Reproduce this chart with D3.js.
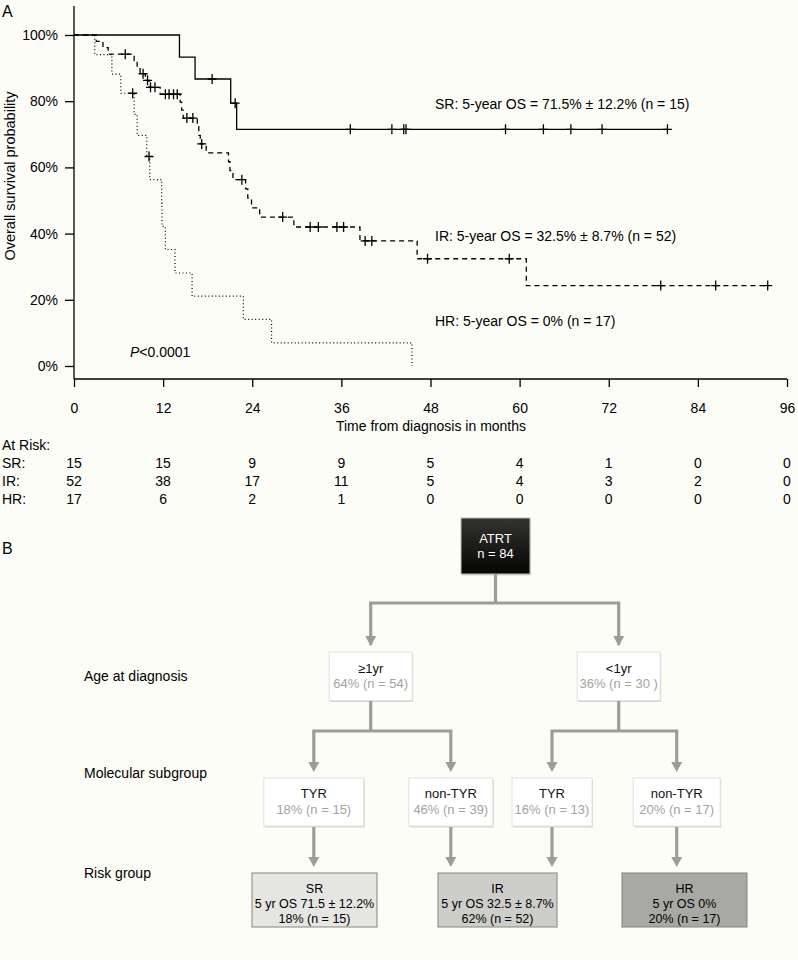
<!DOCTYPE html>
<html><head><meta charset="utf-8">
<script src="https://cdnjs.cloudflare.com/ajax/libs/d3/7.8.5/d3.min.js"></script>
<style>
html,body{margin:0;padding:0;background:#fdfdf7;}
svg{display:block;font-family:"Liberation Sans",Arial,Helvetica,sans-serif;}
</style></head>
<body><svg id="c" width="798" height="960"></svg>
<script>
// ---------- Data (panel A) ----------
const srTimes = [0, 14.2, 16.3, 21.1, 21.9, 79.9];
const srSurv  = [100, 93.3, 86.7, 79.4, 71.5, 71.5];
const srCens  = [18.6, 21.7, 37.2, 42.8, 44.4, 44.7, 58.1, 63.2, 66.9, 71.1, 79.9];

const irTimes = [0, 3.0, 3.9, 4.6, 8.1, 8.5, 8.9, 9.6, 10.1, 11.6, 14.3, 14.5, 14.7, 16.6, 16.8, 17.0, 17.8, 20.8, 21.0, 21.4, 23.1, 23.4, 23.9, 25.0, 29.6, 38.5, 46.2, 60.9, 93.4];
const irSurv  = [100, 98.1, 96.2, 94.2, 92.3, 90.3, 88.3, 86.3, 84.2, 82.1, 79.7, 77.3, 74.9, 72.3, 69.7, 67.1, 64.4, 61.7, 59.0, 56.3, 53.5, 50.7, 47.8, 45.0, 42.0, 37.8, 32.4, 24.3, 24.3];
const irCens  = [6.9, 9.3, 9.9, 10.3, 10.9, 12.3, 12.8, 13.4, 13.9, 15.2, 16.0, 17.2, 22.6, 28.1, 31.8, 32.9, 35.4, 36.3, 39.2, 40.1, 47.6, 58.6, 79.0, 86.4, 93.4];

const hrTimes = [0, 2.8, 5.1, 6.3, 8.1, 8.5, 9.8, 10.2, 11.8, 11.85, 12.3, 13.6, 15.9, 22.8, 26.6, 45.5];
const hrSurv  = [100, 94.1, 88.2, 82.4, 76.0, 69.7, 63.3, 56.3, 49.2, 42.2, 35.2, 28.1, 21.1, 14.1, 7.0, 0];
const hrCens  = [7.9, 10.1];

const xTicks = [0, 12, 24, 36, 48, 60, 72, 84, 96];
const yTicks = [0, 20, 40, 60, 80, 100];
const srRisk = [15, 15, 9, 9, 5, 4, 1, 0, 0];
const irRisk = [52, 38, 17, 11, 5, 4, 3, 2, 0];
const hrRisk = [17, 6, 2, 1, 0, 0, 0, 0, 0];

const curveLabels = ["SR: 5-year OS = 71.5% \u00b1 12.2% (n = 15)",
                     "IR: 5-year OS = 32.5% \u00b1 8.7% (n = 52)",
                     "HR: 5-year OS = 0% (n = 17)"];

// ---------- Data (panel B) ----------
const rootLabel = ["ATRT", "n = 84"];
const ageLabels = ["\u22651yr", "<1yr"];
const agePct = ["64% (n = 54)", "36% (n = 30 )"];
const molLabels = ["TYR", "non-TYR", "TYR", "non-TYR"];
const molPct = ["18% (n = 15)", "46% (n = 39)", "16% (n = 13)", "20% (n = 17)"];
const riskNames = ["SR", "IR", "HR"];
const riskOS = ["5 yr OS 71.5 \u00b1 12.2%", "5 yr OS 32.5 \u00b1 8.7%", "5 yr OS 0%"];
const riskPct = ["18% (n = 15)", "62% (n = 52)", "20% (n = 17)"];
const rowLabels = ["Age at diagnosis", "Molecular subgroup", "Risk group"];

// ---------- Panel A ----------
const svg = d3.select("#c");
const x = d3.scaleLinear().domain([0, 96]).range([74, 787]);
const y = d3.scaleLinear().domain([0, 100]).range([366, 35]);
const axisY = 379;

svg.append("text").attr("x", 2).attr("y", 17).attr("font-size", 16).text("A");
svg.append("text").attr("x", 2).attr("y", 554).attr("font-size", 16).text("B");

// y axis
const gy = svg.append("g").attr("transform", "translate(74,0)")
  .call(d3.axisLeft(y).tickValues(yTicks).tickFormat(d => d + "%").tickSize(9).tickPadding(7));
gy.select(".domain").remove();
gy.selectAll("line").attr("stroke", "#000").attr("stroke-width", 1.3);
gy.selectAll("text").attr("font-size", 14).attr("font-family", "Liberation Sans, Arial, sans-serif").attr("fill", "#000");
svg.append("line").attr("x1", 74).attr("x2", 74).attr("y1", 6).attr("y2", axisY)
  .attr("stroke", "#000").attr("stroke-width", 1.3);

// x axis
const gx = svg.append("g").attr("transform", `translate(0,${axisY})`)
  .call(d3.axisBottom(x).tickValues(xTicks).tickSize(8).tickPadding(16));
gx.select(".domain").attr("d", `M${x(0)},0H${x(96)}`).attr("stroke", "#000").attr("stroke-width", 1.3);
gx.selectAll("line").attr("stroke", "#000").attr("stroke-width", 1.3);
gx.selectAll("text").attr("font-size", 14).attr("font-family", "Liberation Sans, Arial, sans-serif").attr("fill", "#000");

svg.append("text").attr("x", 431).attr("y", 431).attr("text-anchor", "middle").attr("font-size", 14)
  .text("Time from diagnosis in months");
svg.append("text").attr("transform", "translate(15,176) rotate(-90)").attr("text-anchor", "middle")
  .attr("font-size", 14.5).text("Overall survival probability");

// curves
function stepLevel(times, surv, t) {
  let s = surv[0];
  for (let i = 0; i < times.length; i++) { if (times[i] <= t) s = surv[i]; }
  return s;
}
const line = d3.line().x(d => x(d[0])).y(d => y(d[1])).curve(d3.curveStepAfter);
function drawCurve(times, surv, cens, dash, width) {
  const pts = times.map((t, i) => [t, surv[i]]);
  svg.append("path").attr("d", line(pts)).attr("fill", "none").attr("stroke", "#000")
    .attr("stroke-width", width).attr("stroke-dasharray", dash);
  const g = svg.append("g");
  cens.forEach(t => {
    const cx = x(t), cy = y(stepLevel(times, surv, t));
    g.append("path").attr("d", `M${cx - 4.5},${cy}H${cx + 4.5}M${cx},${cy - 5}V${cy + 5}`)
      .attr("stroke", "#000").attr("stroke-width", 1.3).attr("fill", "none");
  });
}
drawCurve(hrTimes, hrSurv, hrCens, "1,2.5", 1.2);
drawCurve(irTimes, irSurv, irCens, "5,4", 1.3);
drawCurve(srTimes, srSurv, srCens, null, 1.3);

svg.append("text").attr("x", 435).attr("y", 109).attr("font-size", 14).text(curveLabels[0]);
svg.append("text").attr("x", 435).attr("y", 241).attr("font-size", 14).text(curveLabels[1]);
svg.append("text").attr("x", 435).attr("y", 326).attr("font-size", 14).text(curveLabels[2]);
const pt = svg.append("text").attr("x", 130).attr("y", 357).attr("font-size", 14);
pt.append("tspan").attr("font-style", "italic").text("P");
pt.append("tspan").text("<0.0001");

// at-risk table
svg.append("text").attr("x", 2).attr("y", 450).attr("font-size", 14).text("At Risk:");
[["SR:", srRisk, 468], ["IR:", irRisk, 486], ["HR:", hrRisk, 504]].forEach(([lab, arr, yy]) => {
  svg.append("text").attr("x", 2).attr("y", yy).attr("font-size", 14).text(lab);
  arr.forEach((v, i) => svg.append("text").attr("x", x(xTicks[i])).attr("y", yy)
    .attr("text-anchor", "middle").attr("font-size", 14).text(v));
});

// ---------- Panel B ----------
const defs = svg.append("defs");
const grad = defs.append("linearGradient").attr("id", "blk").attr("x1", 0).attr("y1", 0).attr("x2", 0).attr("y2", 1);
grad.append("stop").attr("offset", "0%").attr("stop-color", "#33332f");
grad.append("stop").attr("offset", "100%").attr("stop-color", "#050504");
const grey = "#9d9d98";

function connector(pathD) {
  svg.append("path").attr("d", pathD).attr("fill", "none").attr("stroke", grey).attr("stroke-width", 3.2);
}
function arrowHead(cx, tip) {
  svg.append("path").attr("d", `M${cx - 5.5},${tip - 10}L${cx + 5.5},${tip - 10}L${cx},${tip}Z`).attr("fill", grey);
}
function box(x0, y0, w, h, fill, stroke, shadow) {
  if (shadow) svg.append("rect").attr("x", x0 + 1).attr("y", y0 + 1.5).attr("width", w).attr("height", h).attr("fill", "#d6d6d2");
  svg.append("rect").attr("x", x0).attr("y", y0).attr("width", w).attr("height", h)
    .attr("fill", fill).attr("stroke", stroke).attr("stroke-width", 1);
}
function txt(cx, yy, s, col, fs) {
  svg.append("text").attr("x", cx).attr("y", yy).attr("text-anchor", "middle").attr("font-size", fs || 13)
    .attr("fill", col).text(s);
}

// root
box(461, 518, 69, 56, "url(#blk)", "#bdbdb8", true);
txt(495.5, 543, rootLabel[0], "#fff");
txt(495.5, 558, rootLabel[1], "#fff");

// level 1 -> 2
const l2x = [370.7, 618.7];
connector(`M495.5,574V603M${l2x[0]},645V603H${l2x[1]}V645`);
l2x.forEach(cx => arrowHead(cx, 646));
l2x.forEach((cx, i) => {
  box(cx - 41.5, 652, 83, 48.5, "#fff", "#e2e2de", true);
  txt(cx, 673, ageLabels[i], "#111");
  txt(cx, 688, agePct[i], "#a3a3a0");
});

// level 2 -> 3
const l3x = [313.8, 450.8, 552, 676.7];
const l3w = [100, 84, 80, 87];
connector(`M${l2x[0]},701V731M${l3x[0]},768V731H${l3x[1]}V768`);
connector(`M${l2x[1]},701V731M${l3x[2]},768V731H${l3x[3]}V768`);
l3x.forEach(cx => arrowHead(cx, 772));
l3x.forEach((cx, i) => {
  box(cx - l3w[i] / 2, 778, l3w[i], 48, "#fff", "#e2e2de", true);
  txt(cx, 798, molLabels[i], "#111");
  txt(cx, 814, molPct[i], "#a3a3a0");
});

// level 3 -> 4
l3x.forEach(cx => { connector(`M${cx},827V862`); arrowHead(cx, 867); });
const l4 = [[252, 125, "#e5e5e1"], [438, 119, "#cdcdc9"], [622, 125, "#a8a8a4"]];
l4.forEach(([x0, w, f], i) => {
  box(x0, 873, w, 54, f, "#85857f", false);
  const cx = x0 + w / 2;
  txt(cx, 893, riskNames[i], "#000", 12.5);
  txt(cx, 908, riskOS[i], "#000", 12.5);
  txt(cx, 923, riskPct[i], "#000", 12.5);
});

// row labels
[[rowLabels[0], 681], [rowLabels[1], 778], [rowLabels[2], 878]].forEach(([s, yy]) =>
  svg.append("text").attr("x", 84).attr("y", yy).attr("font-size", 14).text(s));
</script>
</body></html>
